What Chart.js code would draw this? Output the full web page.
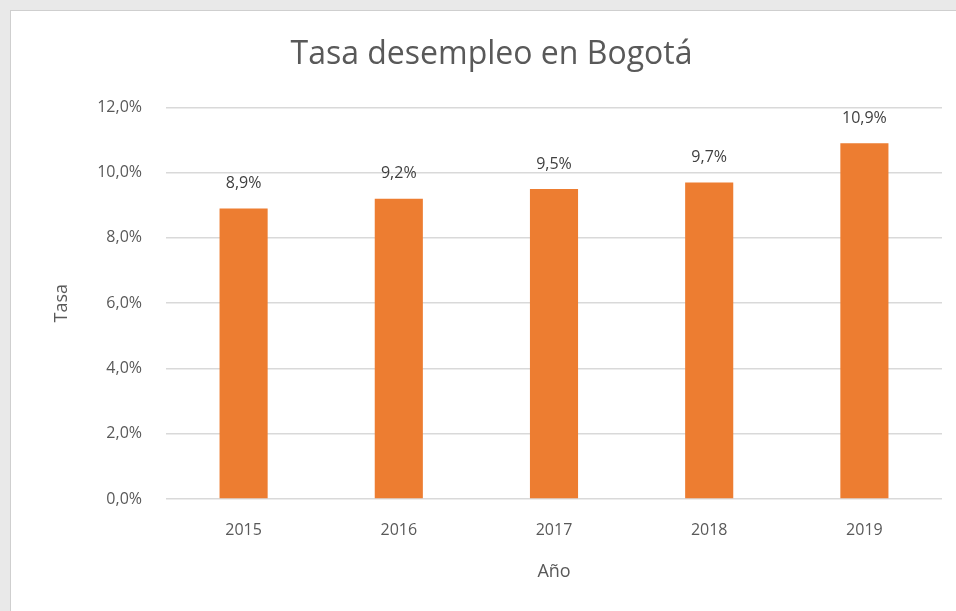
<!DOCTYPE html>
<html>
<head>
<meta charset="utf-8">
<script src="https://cdn.jsdelivr.net/npm/chart.js@4"></script>
<style>
  body { margin: 0; background: #e9e9e9; width: 956px; height: 611px; overflow: hidden; }
  #box { position: absolute; left: 10px; top: 10px; width: 945px; height: 600px;
         background: #fff; border-left: 1px solid #cfcfcf; border-top: 1px solid #cfcfcf; }
</style>
</head>
<body>
<div id="box"><canvas id="chart" width="945" height="600"></canvas></div>
<script>
'use strict';

const years = ['2015', '2016', '2017', '2018', '2019'];
const tasa = [8.9, 9.2, 9.5, 9.7, 10.9];
const yMax = 12;
const yStep = 2;

const pct = (v) => v.toFixed(1).replace('.', ',') + '%';

Chart.defaults.font.family = '"Open Sans", "Noto Sans", sans-serif';
Chart.defaults.color = '#595959';

// value labels above the bars
const barLabels = {
  id: 'barLabels',
  afterDatasetsDraw(chart) {
    const ctx = chart.ctx;
    const meta = chart.getDatasetMeta(0);
    ctx.save();
    ctx.font = '16px "Open Sans", "Noto Sans", sans-serif';
    ctx.fillStyle = '#404040';
    ctx.textAlign = 'center';
    ctx.textBaseline = 'middle';
    meta.data.forEach((bar, i) => {
      ctx.fillText(pct(tasa[i]), bar.x, bar.y - 25);
    });
    ctx.restore();
  }
};

new Chart(document.querySelector('#chart'), {
  type: 'bar',
  data: {
    labels: years,
    datasets: [{
      data: tasa,
      backgroundColor: '#ED7D31',
      categoryPercentage: 1,
      barPercentage: 0.31,
    }]
  },
  options: {
    responsive: false,
    animation: false,
    layout: { padding: { left: 30, right: 14, top: 25, bottom: 0 } },
    plugins: {
      legend: { display: false },
      tooltip: { enabled: false },
      title: {
        display: true,
        text: 'Tasa desempleo en Bogotá',
        color: '#595959',
        font: { size: 32, weight: 'normal' },
        padding: { top: 0, bottom: 33 }
      }
    },
    scales: {
      x: {
        grid: { display: false, drawTicks: false },
        border: { display: false },
        ticks: { color: '#595959', font: { size: 16 }, padding: 22 },
        title: {
          display: true,
          text: 'Año',
          color: '#595959',
          font: { size: 18 },
          padding: { top: 28, bottom: 28 }
        },
        afterFit(scale) { scale.height = 112; }
      },
      y: {
        min: 0,
        max: yMax,
        grid: { color: '#d9d9d9', lineWidth: 1.5, drawTicks: false },
        border: { display: false },
        ticks: {
          stepSize: yStep,
          color: '#595959',
          font: { size: 16 },
          padding: 24,
          callback: (v) => pct(v)
        },
        title: {
          display: true,
          text: 'Tasa',
          color: '#595959',
          font: { size: 18 },
          padding: { top: 10, bottom: 10 }
        },
        afterFit(scale) { scale.width = 125; }
      }
    }
  },
  plugins: [barLabels]
});
</script>
</body>
</html>
